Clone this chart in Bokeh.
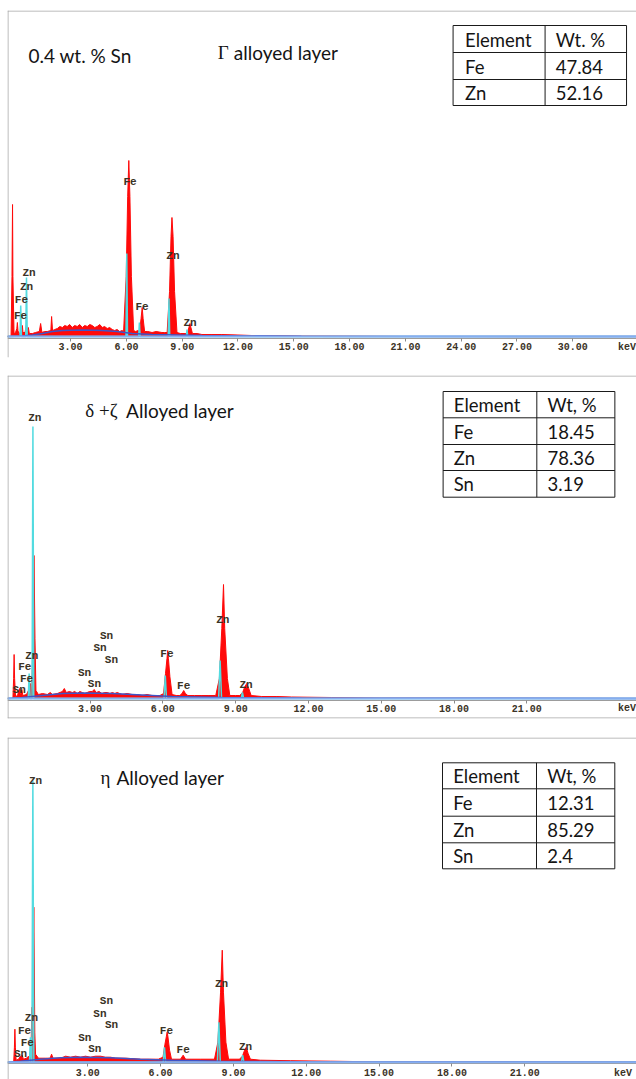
from bokeh.plotting import figure
from bokeh.models import Range1d, FixedTicker, NumeralTickFormatter, Label, Span, ColumnDataSource
from bokeh.layouts import column
from bokeh.core.properties import value
from bokeh.embed import file_html
from bokeh.resources import INLINE

# ---------------- Panel 1 : 0.4 wt.% Sn, Gamma alloyed layer ----------------
p1_red_e = [-0.20, -0.15, -0.12, -0.10, -0.04, 0.04, 0.11, 0.14, 0.17, 0.22, 0.31, 0.39, 0.41, 0.44,
            0.55, 0.63, 0.68, 0.73, 0.78, 0.95, 1.11, 1.32, 1.39, 1.46, 1.60, 1.75, 1.94, 1.98, 2.03,
            2.15, 2.29, 2.42, 2.56, 2.69, 2.82, 2.95, 3.09, 3.22, 3.36, 3.49, 3.63, 3.76, 3.90, 4.03,
            4.16, 4.30, 4.43, 4.57, 4.70, 4.83, 4.97, 5.10, 5.24, 5.37, 5.50, 5.64, 5.77, 5.85, 5.99,
            6.07, 6.13, 6.19, 6.27, 6.39, 6.50, 6.62, 6.71, 6.79, 6.85, 6.90, 6.98, 7.15, 7.38, 7.60,
            7.91, 8.05, 8.19, 8.32, 8.40, 8.45, 8.51, 8.59, 8.72, 8.90, 9.10, 9.28, 9.36, 9.42, 9.47,
            9.55, 9.80, 10.06, 10.60, 11.13, 12.00, 12.74, 14.00, 15.42, 18.00, 20.78, 33.5]
p1_red_c = [0, 60, 132, 60, 3, 4, 8, 14, 6, 3, 4, 8, 11, 4,
            4, 12, 6, 9, 3, 3, 4, 5, 13, 4, 5, 5, 6, 20, 6,
            7, 8, 10, 9, 11, 10, 12, 9, 11, 10, 12, 9, 11, 10, 12,
            11, 9, 10, 12, 9, 10, 8, 9, 7, 6, 7, 5, 6, 5, 60,
            140, 176, 140, 60, 6, 5, 6, 5, 18, 29, 18, 5, 5, 4, 5,
            4, 4, 4, 45, 100, 119, 100, 45, 4, 3, 3, 3, 9, 13, 9,
            3, 3, 2, 2, 2, 1.5, 1, 1, 0.5, 0.3, 0, 0]
p1_cyan_e = [-0.4, 0.28, 0.32, 0.36, 0.59, 0.63, 0.67, 5.98, 6.02, 6.06, 6.66, 6.70, 6.74,
             8.25, 8.29, 8.33, 9.22, 9.26, 9.30, 33.5]
p1_cyan_c = [0, 0, 31, 0, 0, 59, 0, 0, 83, 0, 0, 14, 0, 0, 38, 0, 0, 7, 0, 0]
p1_bg_e = [-0.4, 0.40, 0.95, 1.49, 2.02, 2.56, 3.63, 4.70, 5.50, 6.31, 7.38, 10.06, 15.42, 33.5]
p1_bg_c = [0, 0.5, 1.5, 3, 5, 6, 6.5, 6, 5, 3, 2, 1, 0.3, 0]
p1_lab_t = ["Zn", "Zn", "Fe", "Fe", "Fe", "Fe", "Zn", "Zn"]
p1_lab_e = [0.77, 0.63, 0.36, 0.31, 6.20, 6.84, 8.50, 9.42]
p1_lab_c = [64, 50, 37, 21, 155, 30, 81, 14]
p1_ticks = [3, 6, 9, 12, 15, 18, 21, 24, 27, 30]
p1_header = ["Element", "Wt. %"]
p1_elements = ["Fe", "Zn"]
p1_wt = ["47.84", "52.16"]

# ---------------- Panel 2 : delta + zeta alloyed layer ----------------
p2_red_e = [-0.18, -0.15, -0.13, -0.11, -0.07, 0.01, 0.09, 0.13, 0.19, 0.23, 0.38, 0.46, 0.50, 0.55,
            0.60, 0.65, 0.69, 0.73, 0.77, 0.87, 1.04, 1.24, 1.36, 1.45, 1.65, 1.86, 1.94, 2.02, 2.15,
            2.27, 2.37, 2.47, 2.58, 2.68, 2.78, 2.88, 2.98, 3.09, 3.17, 3.25, 3.37, 3.49, 3.60, 3.71,
            3.82, 3.92, 4.02, 4.12, 4.22, 4.32, 4.53, 4.73, 4.93, 5.14, 5.35, 5.55, 5.75, 5.88, 6.03,
            6.11, 6.17, 6.20, 6.23, 6.29, 6.38, 6.55, 6.70, 6.79, 6.86, 6.93, 7.03, 7.30, 7.61, 7.90,
            8.18, 8.33, 8.43, 8.50, 8.55, 8.66, 8.76, 9.00, 9.17, 9.29, 9.38, 9.46, 9.54, 9.64, 10.07,
            10.70, 11.30, 12.95, 15.00, 25.6]
p2_red_c = [0, 20, 44, 20, 2, 3, 10, 3, 9, 3, 4, 8, 4, 15,
            5, 70, 143, 60, 8, 4, 5, 4, 6, 4, 5, 7, 10, 6, 7,
            6, 7, 5, 7, 6, 5, 6, 7, 7, 9, 6, 7, 5, 6, 6,
            5, 6, 5, 6, 5, 4, 5, 4, 4, 3, 4, 3, 3, 3, 5,
            25, 40, 48, 40, 22, 4, 3, 3, 5, 8, 5, 3, 3, 3, 3,
            3, 20, 70, 114, 70, 20, 3, 3, 3, 6, 12, 15, 10, 3, 2,
            2, 1.5, 1, 0.3, 0]
p2_cyan_e = [-0.4, 0.45, 0.49, 0.53, 0.61, 0.645, 0.68, 6.05, 6.10, 6.15, 8.30, 8.36, 8.42,
             9.23, 9.28, 9.33, 25.6]
p2_cyan_c = [0, 0, 25, 0, 0, 272, 0, 0, 23, 0, 0, 38, 0, 0, 6, 0, 0]
p2_bg_e = [-0.4, 0.21, 0.62, 1.04, 1.86, 2.68, 3.91, 5.14, 6.38, 8.43, 11.72, 25.6]
p2_bg_c = [0, 1, 2, 3, 5, 5.5, 5, 3.5, 2, 1, 0.5, 0]
p2_lab_t = ["Zn", "Zn", "Fe", "Fe", "Sn", "Sn", "Sn", "Sn", "Sn", "Sn", "Fe", "Fe", "Zn", "Zn"]
p2_lab_e = [0.72, 0.60, 0.31, 0.38, 0.08, 3.68, 3.41, 3.88, 2.77, 3.18, 6.17, 6.86, 8.47, 9.43]
p2_lab_c = [281, 43, 32, 20, 9, 63, 51, 39, 26, 15, 45, 13, 79, 14]
p2_ticks = [3, 6, 9, 12, 15, 18, 21]
p2_header = ["Element", "Wt, %"]
p2_elements = ["Fe", "Zn", "Sn"]
p2_wt = ["18.45", "78.36", "3.19"]

# ---------------- Panel 3 : eta alloyed layer ----------------
p3_red_e = [-0.05, -0.02, 0.00, 0.02, 0.05, 0.15, 0.23, 0.30, 0.35, 0.48, 0.56, 0.60, 0.66, 0.70,
            0.72, 0.78, 0.82, 0.85, 0.97, 1.26, 1.45, 1.51, 1.57, 1.88, 2.09, 2.29, 2.50, 2.70, 2.91,
            3.11, 3.32, 3.53, 3.73, 3.94, 4.14, 4.56, 5.17, 5.91, 6.10, 6.18, 6.24, 6.27, 6.30, 6.37,
            6.45, 6.82, 6.93, 7.03, 7.64, 8.22, 8.36, 8.47, 8.54, 8.59, 8.69, 8.80, 9.25, 9.37, 9.46,
            9.53, 9.60, 9.70, 10.11, 11.35, 13.00, 15.06, 25.6]
p3_red_c = [0, 15, 33, 15, 2, 3, 6, 7, 3, 4, 6, 4, 8, 55,
            20, 155, 30, 8, 4, 4, 4, 8, 4, 4, 6, 5, 6, 5, 6,
            5, 6, 6, 5, 5, 4, 4, 3, 3, 5, 18, 26, 30, 26, 12,
            3, 3, 7, 3, 3, 3, 20, 70, 112, 70, 20, 3, 3, 6, 12,
            15, 9, 3, 2, 1.5, 1, 0.3, 0]
p3_cyan_e = [-0.3, 0.60, 0.64, 0.68, 0.70, 0.74, 0.78, 6.11, 6.16, 6.21, 8.34, 8.40, 8.46,
             9.33, 9.38, 9.43, 25.6]
p3_cyan_c = [0, 0, 25, 0, 0, 282, 0, 0, 15, 0, 0, 40, 0, 0, 7, 0, 0]
p3_bg_e = [-0.3, 0.23, 0.64, 1.06, 1.88, 2.70, 3.94, 5.17, 6.45, 8.47, 11.76, 25.6]
p3_bg_c = [0, 1, 2, 3, 4.5, 5, 4.5, 3, 2, 1, 0.5, 0]
p3_lab_t = ["Zn", "Zn", "Fe", "Fe", "Sn", "Sn", "Sn", "Sn", "Sn", "Sn", "Fe", "Fe", "Zn", "Zn"]
p3_lab_e = [0.85, 0.68, 0.40, 0.51, 0.23, 3.77, 3.50, 3.98, 2.88, 3.29, 6.24, 6.93, 8.51, 9.50]
p3_lab_c = [281, 44, 31, 19, 8, 61, 48, 37, 24, 13, 31, 12, 78, 15]
p3_ticks = [3, 6, 9, 12, 15, 18, 21]
p3_header = ["Element", "Wt, %"]
p3_elements = ["Fe", "Zn", "Sn"]
p3_wt = ["12.31", "85.29", "2.4"]

W = 636
RED = "#ff0a0a"
CYAN = "#52dbe0"
BLUE = "#3f55c8"
BASE = "#86aef0"
BORDER = "#a6a6a6"
LABC = "#3b3326"
TXT = "#141414"


def make_panel(g, red_e, red_c, cyan_e, cyan_c, bg_e, bg_c, lab_t, lab_e, lab_c, ticks,
               header, elements, wt, titles):
    x0, s, base = g["x0"], g["s"], g["baseline"]

    def X(px):
        return (px - x0) / s

    def Y(py):
        return base - py

    H = g["height"]
    xs, xe = X(g["frame_left"]), X(W)
    ys, ye = Y(g["frame_bottom"]), Y(g["frame_top"])
    p = figure(width=W, height=H, x_range=Range1d(xs, xe), y_range=Range1d(ys, ye),
               min_border_left=g["frame_left"], min_border_right=0,
               min_border_top=int(round(g["frame_top"] - g["top"])),
               min_border_bottom=int(round(g["top"] + H - g["frame_bottom"])),
               toolbar_location=None, output_backend="svg", y_axis_location=None,
               x_axis_location="below", outline_line_color=None,
               background_fill_color="white", border_fill_color="white")
    p.xgrid.visible = False
    p.ygrid.visible = False

    ax = p.xaxis[0]
    ax.fixed_location = -1.5
    ax.ticker = FixedTicker(ticks=ticks)
    ax.formatter = NumeralTickFormatter(format="0.00")
    ax.major_label_text_font = "Liberation Mono"
    ax.major_label_text_font_style = "bold"
    ax.major_label_text_font_size = "10px"
    ax.major_label_text_color = LABC
    ax.major_tick_in = 0
    ax.major_tick_out = 3
    ax.major_tick_line_color = "#8a8a8a"
    ax.minor_tick_line_color = None
    ax.axis_line_color = "#9c9c9c"
    ax.major_label_standoff = 2

    # spectrum
    p.varea(x=red_e, y1=[0] * len(red_e), y2=red_c, fill_color=RED)
    p.line(red_e, red_c, line_color=RED, line_width=1)
    p.line(cyan_e, cyan_c, line_color=CYAN, line_width=1.5)
    p.line(bg_e, bg_c, line_color=BLUE, line_width=1.5)
    p.add_layout(Span(location=0, dimension="width", line_color=BASE, line_width=2))

    # peak labels
    src = ColumnDataSource(dict(x=lab_e, y=lab_c, t=lab_t))
    p.text(x="x", y="y", text="t", source=src, text_font=value("Liberation Mono"),
           text_font_style="bold", text_font_size="11px", text_color=LABC,
           text_align="center", text_baseline="middle")

    # keV unit label
    p.add_layout(Label(x=X(g["kev"][0]), y=Y(g["kev"][1]), text="keV", text_font="Liberation Mono",
                       text_font_style="bold", text_font_size="10px", text_color=LABC,
                       text_align="center", text_baseline="middle"))

    # titles (x = left edge, y = vertical centre)
    for (tx, tc, txt, font) in titles:
        p.add_layout(Label(x=X(tx), y=Y(tc), text=txt, text_font=font, text_font_size="19px",
                           text_color=TXT, text_align="left", text_baseline="middle"))

    # table
    t = g["table"]
    rows = t["rows"]
    hx0 = [X(t["left"])] * len(rows)
    hx1 = [X(t["right"])] * len(rows)
    hy = [Y(r) for r in rows]
    vx = [X(t["left"]), X(t["div"]), X(t["right"])]
    p.segment(x0=hx0, y0=hy, x1=hx1, y1=hy, line_color="#1a1a1a", line_width=1)
    p.segment(x0=vx, y0=[Y(rows[0])] * 3, x1=vx, y1=[Y(rows[-1])] * 3, line_color="#1a1a1a",
              line_width=1)
    col1 = [header[0]] + elements
    col2 = [header[1]] + wt
    ty = [Y((rows[i] + rows[i + 1]) / 2 + 0.5) for i in range(len(rows) - 1)]
    tsrc = ColumnDataSource(dict(
        x=[X(t["c1"])] * len(col1) + [X(t["c2"])] * len(col2),
        y=ty + ty, t=col1 + col2))
    p.text(x="x", y="y", text="t", source=tsrc, text_font=value("Lato"), text_font_size="18.5px",
           text_color=TXT, text_align="left", text_baseline="middle")

    # panel frame (top / left / optional bottom)
    p.add_layout(Span(location=ye - 0.5, dimension="width", line_color=BORDER, line_width=1))
    p.add_layout(Span(location=xs + 0.5 / s, dimension="height", line_color=BORDER, line_width=1))
    if g.get("bottom_border"):
        p.add_layout(Span(location=ys + 0.5, dimension="width", line_color=BORDER, line_width=1))
    return p


g1 = dict(top=0, height=362, frame_top=10, frame_bottom=357, frame_left=5, baseline=336,
          x0=12.3, s=18.66, kev=(626.5, 347),
          table=dict(left=452, right=626, div=544.3, rows=[25, 52, 79, 105], c1=464, c2=555))
g2 = dict(top=362, height=363, frame_top=375, frame_bottom=718, frame_left=5, baseline=698,
          x0=14.8, s=24.34, kev=(626.5, 708), bottom_border=True,
          table=dict(left=442, right=614.3, div=536, rows=[391, 417.3, 444, 470, 496.7],
                     c1=452.7, c2=546.7))
g3 = dict(top=725, height=354, frame_top=737, frame_bottom=1079, frame_left=7, baseline=1061.7,
          x0=14.4, s=24.28, kev=(622.5, 1073),
          table=dict(left=442, right=614.3, div=536, rows=[762.3, 788.3, 815.7, 842.3, 868.3],
                     c1=452.7, c2=546.7))

p1 = make_panel(g1, p1_red_e, p1_red_c, p1_cyan_e, p1_cyan_c, p1_bg_e, p1_bg_c,
                p1_lab_t, p1_lab_e, p1_lab_c, p1_ticks, p1_header, p1_elements, p1_wt,
                [(26, 55, "0.4 wt. % Sn", "Lato"), (216, 51.5, "\u0393", "Liberation Serif"),
                 (232, 51.5, "alloyed layer", "Lato")])
p2 = make_panel(g2, p2_red_e, p2_red_c, p2_cyan_e, p2_cyan_c, p2_bg_e, p2_bg_c,
                p2_lab_t, p2_lab_e, p2_lab_c, p2_ticks, p2_header, p2_elements, p2_wt,
                [(83, 410, "\u03b4 +\u03b6", "Liberation Serif"), (124, 410, "Alloyed layer", "Lato")])
p3 = make_panel(g3, p3_red_e, p3_red_c, p3_cyan_e, p3_cyan_c, p3_bg_e, p3_bg_c,
                p3_lab_t, p3_lab_e, p3_lab_c, p3_ticks, p3_header, p3_elements, p3_wt,
                [(100, 777, "\u03b7", "Liberation Serif"), (116, 777, "Alloyed layer", "Lato")])

layout = column(p1, p2, p3, spacing=0)
open("out.html", "w").write(file_html(layout, INLINE))
